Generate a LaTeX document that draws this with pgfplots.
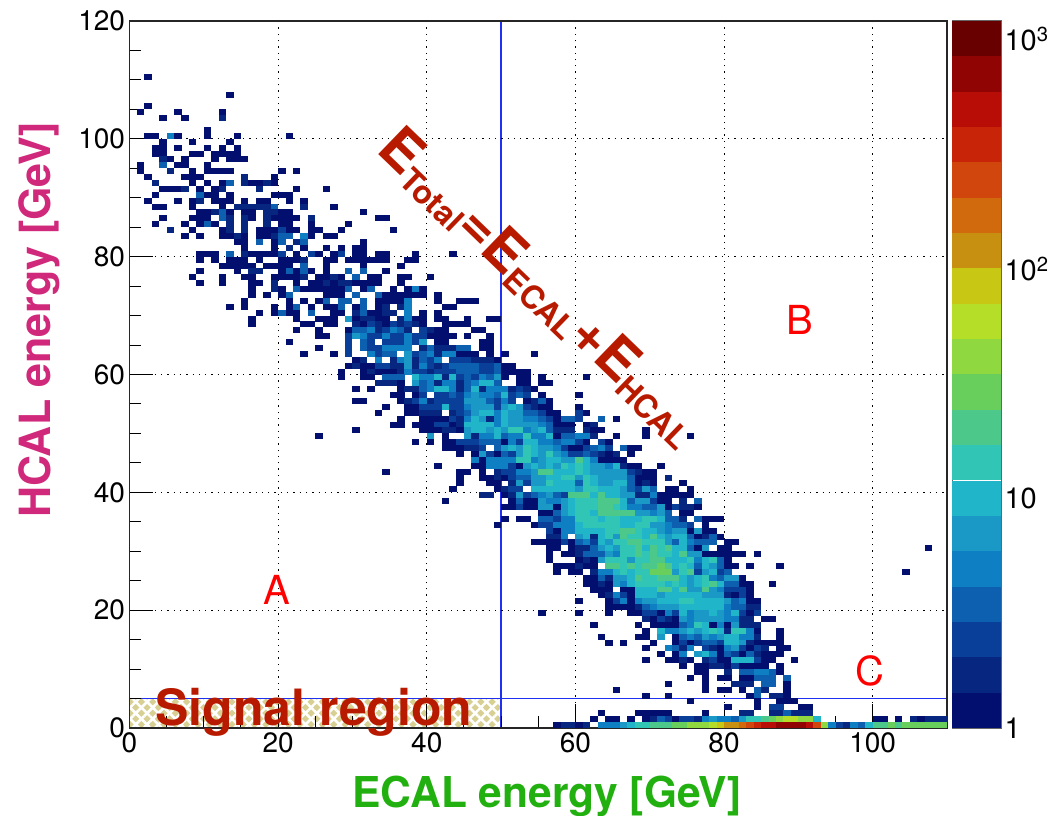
\documentclass[border=0pt]{standalone}
\usepackage{fontspec}
\setmainfont{TeX Gyre Heros}
\usepackage{pgfplots}
\pgfplotsset{compat=1.18}
\usetikzlibrary{patterns.meta}
\definecolor{tanc}{HTML}{D8CF92}
\definecolor{dkred}{HTML}{B81A00}
\definecolor{lblue}{HTML}{2030F0}
\pgfdeclareplotmark{bin}{\pgfpathrectangle{\pgfpoint{-3.75pt}{-3pt}}{\pgfpoint{7.5pt}{6pt}}\pgfusepathqfill}
\pgfdeclareplotmark{lev}{\pgfpathrectangle{\pgfpoint{-24.5pt}{-17.8pt}}{\pgfpoint{49pt}{35.6pt}}\pgfusepathqfill}
\pgfplotsset{
 colormap={root}{
 rgb255=(2,15,110) rgb255=(6,38,128)
 rgb255=(10,63,153) rgb255=(13,95,176)
 rgb255=(15,127,196) rgb255=(26,152,198)
 rgb255=(32,181,200) rgb255=(48,197,180)
 rgb255=(76,200,138) rgb255=(104,207,92)
 rgb255=(144,216,64) rgb255=(180,222,40)
 rgb255=(200,200,20) rgb255=(200,144,16)
 rgb255=(208,106,12) rgb255=(208,70,12)
 rgb255=(200,36,8) rgb255=(184,12,6)
 rgb255=(144,4,4) rgb255=(104,0,0)
 }}
\begin{document}
\begin{tikzpicture}[x=1pt,y=1pt]
\path[use as bounding box] (0,0) rectangle (1056,815);
\begin{axis}[at={(129.5pt,87pt)},anchor=south west,scale only axis,width=817.5pt,height=707pt,
 xmin=0,xmax=110,ymin=0,ymax=120,axis on top,
 xtick={0,20,...,100},ytick={0,20,...,120},minor x tick num=3,minor y tick num=3,
 grid=major,grid style={black,line width=1.1pt,dash pattern=on 1.3pt off 5pt},
 tick align=inside,tick pos=left,major tick length=24pt,minor tick length=12pt,
 tick style={black,line width=1pt},axis line style={line width=1.8pt,color=black!85},
 every tick label/.append style={font=\fontsize{28}{30}\selectfont},
 /pgf/number format/assume math mode=true,
 xticklabel style={yshift=-1pt},yticklabel style={xshift=-1pt},
 point meta min=0,point meta max=3.078,colormap name=root,colormap access=piecewise constant]
\addplot[fill=tanc,draw=none] coordinates {(0,0)(50,0)(50,5)(0,5)} \closedcycle;
\addplot[draw=none,pattern={Lines[angle=45,distance=8pt,line width=2.6pt]},pattern color=white] coordinates {(0,0)(50,0)(50,5)(0,5)} \closedcycle;
\addplot[draw=none,pattern={Lines[angle=-45,distance=8pt,line width=2.6pt]},pattern color=white] coordinates {(0,0)(50,0)(50,5)(0,5)} \closedcycle;
\addplot[scatter,only marks,mark=bin,scatter/use mapped color={draw=none,fill=mapped color},
 point meta={log10(\thisrow{v})}] table[x expr=\thisrow{x}+0.5,y expr=\thisrow{y}+0.5] {
x y v
2 110 1
13 107 1
2 105 1
1 104 1
6 104 1
12 104 1
4 103 1
7 103 1
12 103 2
10 101 1
2 100 1
3 100 1
5 100 5
6 100 1
10 100 1
14 100 1
21 100 1
4 99 1
8 99 1
13 99 1
3 98 1
4 98 1
6 98 1
10 98 1
12 98 1
14 98 1
3 97 1
4 97 1
8 97 1
9 97 1
11 97 1
12 97 1
13 97 1
14 97 1
4 96 2
5 96 1
7 96 1
11 96 1
13 96 1
14 96 1
15 96 1
1 95 1
4 95 3.5
6 95 1
7 95 1
10 95 1
1 94 1
5 94 2
8 94 1
10 94 1
11 94 1
12 94 1
13 94 1
20 94 1
22 94 1
2 93 1
7 93 1
8 93 1
9 93 1
15 93 2
19 93 1
3 92 2
8 92 1
10 92 1
12 92 1
13 92 3.5
15 92 2
16 92 1
17 92 1
18 92 2
19 92 1
4 91 1
5 91 1
6 91 1
7 91 2
9 91 1
11 91 1
12 91 2
17 91 2
22 91 1
26 91 1
3 90 1
9 90 3.5
10 90 1
11 90 1
13 90 1
19 90 1
20 90 1
21 90 1
2 89 1
6 89 1
8 89 1
9 89 2
11 89 1
12 89 1
13 89 1
15 89 1
17 89 1
18 89 1
21 89 1
23 89 1
3 88 1
4 88 1
8 88 1
12 88 1
14 88 2
15 88 2
16 88 2
17 88 2
18 88 2
19 88 3.5
23 88 2
27 88 1
9 87 1
10 87 1
11 87 2
12 87 3.5
13 87 1
15 87 1
16 87 1
18 87 2
19 87 2
20 87 1
21 87 1
31 87 1
4 86 1
8 86 1
9 86 1
10 86 1
12 86 3.5
13 86 2
15 86 2
16 86 1
18 86 2
19 86 1
20 86 1
21 86 1
22 86 1
24 86 2
33 86 1
34 86 1
3 85 1
7 85 1
9 85 1
10 85 3.5
11 85 1
13 85 2
15 85 2
18 85 2
20 85 1
21 85 1
24 85 1
29 85 1
5 84 2
8 84 1
12 84 1
13 84 2
15 84 2
17 84 1
18 84 1
19 84 1
20 84 2.5
21 84 1
22 84 1
24 84 1
25 84 1
28 84 1
35 84 1
7 83 1
9 83 1
12 83 1
13 83 1
14 83 2
15 83 1
17 83 1
18 83 1
19 83 2
20 83 3.5
21 83 3.5
23 83 5
24 83 1
26 83 1
27 83 1
14 82 1
15 82 1
17 82 3.5
19 82 1
20 82 3.5
22 82 2
23 82 3.5
31 82 1
15 81 1
19 81 1
21 81 2
23 81 1
26 81 1
28 81 1
30 81 1
31 81 1
9 80 1
10 80 1
11 80 1
13 80 3.5
15 80 2
16 80 1
17 80 1
18 80 1
19 80 1
20 80 2.5
22 80 1
24 80 2.5
25 80 1
27 80 1
28 80 2.5
30 80 1
31 80 1
33 80 1
34 80 1
38 80 1
43 80 1
9 79 1
11 79 1
13 79 1
14 79 1
15 79 1
17 79 1
20 79 1
21 79 1
22 79 1
23 79 2
26 79 1
27 79 1
29 79 1
30 79 1
31 79 1
32 79 1
33 79 1
34 79 1
37 79 1
38 79 1
12 78 1
13 78 1
14 78 1
15 78 1
16 78 1
18 78 1
19 78 1
20 78 1
21 78 1
23 78 3.5
26 78 1
31 78 1
36 78 1
9 77 1
14 77 1
16 77 2
17 77 2
20 77 1
21 77 3.5
22 77 1
23 77 3.5
24 77 1
26 77 1
29 77 3.5
31 77 3.5
34 77 1
8 76 1
12 76 1
15 76 1
16 76 1
19 76 1
20 76 1
21 76 1
22 76 1
23 76 2
25 76 1
26 76 1
27 76 2
28 76 1
30 76 3.5
32 76 1
33 76 1
36 76 1
37 76 1
40 76 1
9 75 1
12 75 1
16 75 1
17 75 1
19 75 2
22 75 1
24 75 1
25 75 1
26 75 2
27 75 1
28 75 2
29 75 2
30 75 1
31 75 1
32 75 1
33 75 1
36 75 1
16 74 1
19 74 2
20 74 1
22 74 3.5
23 74 1
24 74 1
25 74 1
26 74 1
27 74 1
28 74 1
29 74 3.5
31 74 1
32 74 3.5
35 74 1
37 74 1
38 74 5
39 74 1
16 73 1
18 73 1
20 73 1
21 73 3.5
26 73 1
27 73 1
28 73 1
30 73 3.5
33 73 3.5
34 73 1
35 73 1
36 73 1
37 73 1
38 73 1
39 73 1
41 73 1
15 72 1
21 72 1
23 72 1
25 72 1
26 72 3.5
28 72 3.5
29 72 3.5
31 72 3.5
33 72 1
34 72 1
35 72 1
36 72 1
37 72 5
41 72 1
44 72 1
45 72 1
46 72 1
13 71 1
15 71 1
19 71 1
21 71 1
22 71 3.5
24 71 1
26 71 1
27 71 1
28 71 3.5
30 71 1
31 71 3.5
33 71 1
34 71 2
36 71 2
37 71 5
42 71 1
43 71 1
17 70 1
19 70 1
20 70 3.5
21 70 1
22 70 1
24 70 3.5
27 70 1
28 70 1
30 70 2
31 70 3.5
32 70 1
33 70 1
34 70 2
35 70 2
37 70 5
39 70 1
41 70 1
16 69 1
22 69 1
25 69 1
26 69 1
27 69 1
29 69 7
30 69 1
31 69 2
32 69 2
33 69 1
34 69 1
36 69 2
37 69 5
38 69 1
39 69 1
41 69 1
42 69 1
45 69 1
48 69 1
49 69 1
16 68 1
23 68 1
24 68 1
26 68 1
27 68 1
30 68 2
31 68 1
32 68 2.5
33 68 2
34 68 1
35 68 2.5
36 68 2
37 68 2.5
38 68 2
39 68 1
42 68 1
43 68 1
44 68 1
45 68 1
22 67 1
25 67 1
29 67 1
30 67 3.5
31 67 3.5
32 67 5
33 67 2
34 67 2.5
35 67 5
36 67 3.5
37 67 2
39 67 2.5
40 67 2
41 67 1
42 67 1
46 67 1
47 67 1
25 66 1
26 66 1
29 66 2.5
30 66 7
31 66 5
32 66 2.5
33 66 2.5
34 66 5
35 66 2.5
36 66 2.5
37 66 5
38 66 2.5
39 66 2.5
40 66 1
41 66 1
42 66 1
43 66 1
45 66 1
48 66 1
21 65 1
29 65 2.5
31 65 3.5
32 65 2.5
34 65 2.5
35 65 2.5
36 65 2.5
37 65 5
38 65 2.5
39 65 7
41 65 1
42 65 1
47 65 1
48 65 1
25 64 1
29 64 2.5
31 64 3.5
32 64 2.5
33 64 2.5
34 64 5
35 64 5
36 64 5
37 64 5
39 64 2
40 64 3.5
41 64 2
42 64 2
43 64 2
44 64 3.5
45 64 3.5
47 64 1
48 64 1
23 63 1
27 63 1
29 63 2.5
32 63 5
33 63 2.5
34 63 3.5
35 63 3.5
37 63 7
38 63 2.5
39 63 3.5
40 63 5
41 63 2
42 63 5
43 63 5
44 63 1
45 63 1
46 63 1
48 63 1
50 63 1
54 63 1
30 62 1
31 62 2
33 62 5
35 62 2
36 62 5
37 62 7
38 62 2
39 62 3.5
40 62 2.5
41 62 5
43 62 2.5
44 62 2.5
45 62 2.5
46 62 2
47 62 2
48 62 2
49 62 1
29 61 1
30 61 2
31 61 1
32 61 1
33 61 2.5
34 61 2.5
35 61 2
36 61 2
37 61 7
38 61 2
39 61 5
40 61 2.5
41 61 2
42 61 2.5
43 61 3.5
44 61 3.5
45 61 3.5
46 61 3.5
47 61 2.5
48 61 2.5
49 61 3.5
50 61 1
51 61 1
28 60 1
31 60 1
32 60 2
33 60 1
34 60 1
35 60 1
36 60 2
37 60 5
38 60 2.5
39 60 2.5
40 60 2
41 60 2.5
42 60 2.5
43 60 2.5
44 60 3.5
45 60 3.5
46 60 3.5
47 60 2.5
48 60 2.5
49 60 3.5
50 60 1
51 60 1
52 60 1
53 60 1
28 59 1
31 59 1
32 59 1
34 59 3.5
35 59 3.5
36 59 3.5
38 59 10
39 59 5
40 59 5
41 59 10
42 59 2
43 59 10
44 59 2.5
45 59 3.5
46 59 2.5
47 59 5
48 59 3.5
49 59 7
50 59 1
52 59 1
53 59 1
55 59 1
61 59 1
33 58 2
34 58 2
35 58 2
36 58 1
38 58 7
39 58 3.5
40 58 5
41 58 2
42 58 5
43 58 5
44 58 2
45 58 3.5
46 58 5
47 58 10
48 58 10
49 58 3.5
52 58 1
53 58 1
55 58 1
56 58 1
30 57 1
32 57 1
36 57 1
37 57 2
38 57 2
39 57 3.5
40 57 5
41 57 10
42 57 10
43 57 5
44 57 2
45 57 3.5
46 57 10
47 57 2
48 57 5
49 57 5
50 57 5
51 57 2
52 57 2.5
53 57 2
54 57 1
35 56 1
36 56 1
38 56 1
39 56 2.5
41 56 2.5
42 56 2.5
43 56 3.5
44 56 2.5
45 56 5
46 56 7
47 56 5
48 56 5
49 56 3.5
50 56 10
51 56 2.5
52 56 3.5
53 56 2.5
55 56 1
60 56 1
30 55 1
31 55 1
36 55 1
37 55 2
38 55 2.5
39 55 5
40 55 2
41 55 2.5
42 55 2.5
43 55 2.5
44 55 2.5
45 55 7
46 55 7
47 55 7
48 55 3.5
49 55 2.5
50 55 5
51 55 2.5
53 55 1
54 55 2
55 55 3.5
56 55 1
34 54 1
37 54 1
38 54 1
39 54 2.5
40 54 2.5
41 54 2.5
42 54 10
43 54 2.5
44 54 2.5
45 54 5
46 54 7
47 54 7
48 54 7
49 54 2.5
50 54 7
51 54 10
52 54 7
53 54 2.5
54 54 2
55 54 1
56 54 1
60 54 1
33 53 1
37 53 1
38 53 1
39 53 2
40 53 2
41 53 2
43 53 2
44 53 2.5
45 53 3.5
46 53 7
47 53 10
48 53 10
49 53 5
50 53 10
51 53 7
52 53 7
53 53 3.5
54 53 3.5
55 53 2.5
56 53 1
57 53 1
60 53 2.5
61 53 1
36 52 1
39 52 1
40 52 1
41 52 1
42 52 1
43 52 2.5
44 52 2
45 52 5
46 52 10
47 52 7
48 52 2
49 52 5
50 52 10
51 52 7
52 52 7
53 52 5
54 52 5
55 52 3.5
56 52 2.5
57 52 1
58 52 3.5
59 52 3.5
60 52 2.5
63 52 3.5
65 52 1
35 51 1
36 51 1
38 51 1
39 51 1
40 51 1
41 51 2.5
42 51 2.5
43 51 1
44 51 2
45 51 10
46 51 10
47 51 10
48 51 10
49 51 5
50 51 10
51 51 7
52 51 7
53 51 7
54 51 7
55 51 5
56 51 3.5
57 51 1
58 51 1
59 51 1
61 51 1
62 51 2
30 50 1
39 50 1
40 50 1
41 50 1
42 50 2
43 50 2
44 50 1
45 50 7
46 50 10
47 50 10
48 50 7
49 50 10
50 50 7
51 50 14
52 50 14
53 50 5
54 50 7
55 50 10
56 50 3.5
57 50 2
58 50 2
59 50 2
61 50 2
62 50 1
63 50 1
69 50 1
25 49 1
40 49 7
42 49 1
45 49 7
46 49 2
47 49 5
48 49 5
49 49 10
50 49 3.5
51 49 5
52 49 5
53 49 14
54 49 5
55 49 5
56 49 10
57 49 1
58 49 3.5
59 49 3.5
60 49 5
61 49 5
62 49 2
65 49 1
69 49 1
75 49 1
38 48 1
40 48 1
42 48 1
43 48 1
44 48 2.5
45 48 2.5
46 48 2.5
47 48 3.5
48 48 3.5
49 48 3.5
50 48 1
51 48 5
52 48 2.5
53 48 10
54 48 10
55 48 5
56 48 5
57 48 3.5
58 48 5
59 48 5
60 48 2.5
61 48 1
63 48 2.5
64 48 1
42 47 1
43 47 1
44 47 1
45 47 2
46 47 2
47 47 2.5
49 47 3.5
50 47 7
51 47 10
52 47 7
53 47 14
54 47 10
55 47 7
56 47 7
57 47 5
58 47 2.5
59 47 1
60 47 1
61 47 2.5
62 47 3.5
63 47 5
64 47 2.5
66 47 3.5
67 47 1
68 47 1
44 46 1
46 46 1
47 46 7
48 46 2.5
49 46 1
50 46 3.5
51 46 2.5
52 46 7
53 46 14
54 46 10
55 46 7
56 46 14
57 46 7
58 46 5
59 46 2.5
60 46 2.5
61 46 3.5
62 46 2.5
63 46 2
64 46 1
65 46 2
67 46 1
46 45 5
47 45 1
48 45 5
49 45 5
50 45 5
51 45 5
52 45 14
53 45 14
54 45 5
55 45 7
56 45 10
57 45 10
58 45 7
59 45 7
60 45 20
61 45 10
62 45 5
63 45 1
64 45 1
65 45 1
66 45 1
41 44 1
46 44 1
47 44 1
48 44 5
49 44 5
50 44 5
51 44 2.5
52 44 1
53 44 7
54 44 10
55 44 7
56 44 10
57 44 7
58 44 14
59 44 10
60 44 14
61 44 10
62 44 7
63 44 7
64 44 5
65 44 10
66 44 2
67 44 1
68 44 1
71 44 1
34 43 1
44 43 1
45 43 1
47 43 1
49 43 2
50 43 2.5
51 43 2.5
52 43 5
53 43 5
54 43 7
55 43 20
56 43 20
57 43 10
58 43 10
59 43 10
60 43 14
61 43 10
62 43 7
63 43 7
64 43 7
65 43 7
66 43 7
67 43 2.5
68 43 2
69 43 1
70 43 1
44 42 1
47 42 1
48 42 1
49 42 2
50 42 1
51 42 2.5
52 42 3.5
53 42 3.5
54 42 7
55 42 7
56 42 10
57 42 10
58 42 14
59 42 14
60 42 7
61 42 14
62 42 10
63 42 7
64 42 7
65 42 7
66 42 7
67 42 3.5
68 42 1
69 42 1
70 42 1
72 42 2
44 41 1
48 41 1
49 41 1
51 41 2
52 41 7
53 41 2.5
54 41 7
55 41 7
56 41 14
57 41 10
58 41 10
59 41 10
60 41 3.5
61 41 14
62 41 10
63 41 7
64 41 7
65 41 10
66 41 10
67 41 3.5
68 41 1
69 41 2
70 41 1
74 41 1
43 40 1
49 40 1
50 40 2
51 40 2.5
52 40 2.5
54 40 10
55 40 10
56 40 10
57 40 10
58 40 10
59 40 10
60 40 7
61 40 14
62 40 14
63 40 10
64 40 10
65 40 10
66 40 7
67 40 3.5
68 40 2.5
69 40 7
70 40 3.5
72 40 1
73 40 1
75 40 1
47 39 2
48 39 2
50 39 1
51 39 2
52 39 7
53 39 2.5
54 39 3.5
55 39 5
56 39 7
57 39 3.5
58 39 2.5
59 39 20
60 39 20
61 39 20
62 39 10
63 39 20
64 39 10
65 39 10
66 39 7
67 39 7
68 39 2
69 39 2
70 39 5
71 39 1
72 39 1
73 39 1
74 39 1
75 39 1
42 38 1
51 38 1
52 38 3.5
53 38 1
54 38 1
55 38 7
56 38 5
57 38 5
58 38 7
59 38 10
60 38 14
61 38 14
62 38 14
63 38 20
64 38 20
65 38 20
66 38 10
67 38 3.5
68 38 7
69 38 7
70 38 2.5
71 38 1
72 38 1
74 38 2
76 38 3.5
50 37 1
51 37 1
52 37 2.5
53 37 1
54 37 1
55 37 7
56 37 7
57 37 1
58 37 7
59 37 10
60 37 14
61 37 14
62 37 14
63 37 20
64 37 20
65 37 14
66 37 10
67 37 5
68 37 5
69 37 3.5
70 37 3.5
71 37 7
72 37 1
73 37 2.5
74 37 2
75 37 2
76 37 1
55 36 1
56 36 1
57 36 3.5
58 36 7
59 36 10
60 36 14
61 36 14
62 36 10
63 36 20
64 36 20
65 36 20
66 36 20
67 36 20
68 36 7
69 36 7
70 36 5
71 36 7
72 36 3.5
74 36 1
75 36 1
50 35 1
52 35 1
53 35 1
55 35 3.5
56 35 3.5
57 35 2.5
58 35 5
59 35 5
60 35 14
61 35 14
62 35 14
63 35 10
64 35 14
65 35 14
66 35 10
67 35 10
68 35 10
69 35 14
70 35 14
71 35 10
72 35 3.5
73 35 3.5
74 35 2
76 35 3.5
77 35 1
78 35 1
79 35 1
49 34 1
54 34 1
55 34 2.5
56 34 2.5
57 34 5
58 34 5
59 34 5
60 34 10
61 34 14
62 34 14
63 34 14
64 34 14
65 34 14
66 34 10
67 34 10
68 34 14
69 34 14
70 34 7
71 34 7
72 34 5
73 34 3.5
74 34 3.5
75 34 2.5
77 34 1
56 33 2.5
57 33 1
58 33 5
59 33 5
60 33 10
61 33 10
62 33 10
63 33 10
64 33 14
65 33 14
66 33 20
67 33 20
68 33 14
69 33 10
70 33 10
71 33 7
72 33 5
73 33 7
74 33 7
75 33 1
76 33 7
77 33 1
78 33 1
56 32 2
57 32 2
58 32 5
60 32 7
61 32 10
62 32 2
63 32 10
64 32 14
65 32 7
66 32 20
67 32 14
68 32 14
69 32 10
70 32 20
71 32 10
72 32 7
73 32 10
74 32 10
75 32 3.5
76 32 1
77 32 2
78 32 3.5
79 32 1
54 31 1
55 31 1
56 31 1
57 31 1
58 31 2.5
59 31 1
60 31 3.5
61 31 5
62 31 2.5
63 31 10
64 31 7
65 31 14
66 31 14
67 31 20
68 31 20
69 31 14
70 31 14
71 31 14
72 31 7
73 31 3.5
74 31 10
75 31 5
76 31 3.5
77 31 3.5
78 31 3.5
80 31 1
81 31 1
107 30 1
56 30 1
57 30 1
59 30 1
60 30 2
61 30 2
62 30 3.5
63 30 7
64 30 10
65 30 7
66 30 14
67 30 14
68 30 20
69 30 10
70 30 20
71 30 14
72 30 20
73 30 10
74 30 10
75 30 3.5
76 30 1
77 30 7
79 30 1
80 30 1
56 29 1
58 29 1
59 29 1
60 29 2
61 29 3.5
62 29 3.5
63 29 3.5
64 29 7
65 29 5
66 29 14
67 29 14
68 29 20
69 29 14
70 29 20
71 29 14
72 29 14
73 29 10
74 29 20
75 29 7
76 29 7
77 29 1
78 29 1
79 29 1
80 29 1
81 29 1
82 29 1
84 29 1
56 28 1
60 28 1
61 28 2
62 28 1
63 28 7
64 28 14
65 28 14
66 28 14
67 28 7
68 28 14
69 28 14
70 28 20
71 28 20
72 28 10
73 28 10
74 28 10
75 28 14
76 28 5
77 28 10
78 28 14
79 28 3.5
80 28 1
57 27 1
58 27 1
59 27 1
60 27 2
61 27 1
62 27 1
64 27 20
65 27 20
66 27 14
67 27 20
68 27 14
69 27 20
70 27 20
71 27 29
72 27 20
73 27 10
74 27 14
75 27 10
76 27 3.5
77 27 10
78 27 7
79 27 3.5
80 27 1
81 27 1
83 27 1
87 27 1
57 26 1
59 26 1
60 26 1
62 26 2
63 26 5
64 26 5
65 26 10
66 26 14
67 26 10
68 26 14
69 26 14
70 26 29
71 26 29
72 26 29
73 26 7
74 26 14
75 26 20
76 26 2.5
77 26 7
78 26 10
79 26 2.5
80 26 3.5
104 26 1
61 25 1
62 25 1
63 25 3.5
64 25 2
65 25 7
66 25 7
67 25 10
68 25 20
69 25 14
70 25 14
71 25 20
72 25 20
73 25 20
74 25 10
75 25 7
76 25 10
77 25 14
78 25 5
79 25 3.5
80 25 7
81 25 7
82 25 1
61 24 1
62 24 1
63 24 2
64 24 1
65 24 7
66 24 5
67 24 10
68 24 14
69 24 14
70 24 14
71 24 14
72 24 10
73 24 14
74 24 10
75 24 7
76 24 10
77 24 14
78 24 20
79 24 10
80 24 3.5
81 24 3.5
82 24 1
83 24 1
86 24 1
62 23 1
63 23 1
64 23 1
66 23 1
67 23 1
68 23 10
69 23 10
70 23 10
71 23 20
72 23 20
73 23 10
74 23 20
75 23 7
76 23 7
77 23 20
78 23 7
79 23 5
80 23 2.5
81 23 2.5
82 23 2.5
83 23 1
63 22 1
64 22 2
65 22 5
66 22 2.5
67 22 1
68 22 10
69 22 10
70 22 10
71 22 7
72 22 10
73 22 10
74 22 10
75 22 10
76 22 10
77 22 7
78 22 7
79 22 7
80 22 2
81 22 1
82 22 2.5
83 22 1
60 21 1
64 21 1
65 21 2.5
66 21 5
67 21 1
68 21 5
69 21 7
70 21 7
71 21 10
72 21 10
73 21 10
74 21 14
75 21 14
76 21 10
77 21 10
78 21 10
79 21 10
80 21 7
81 21 3.5
82 21 5
83 21 1
84 21 1
64 20 1
65 20 1
66 20 1
67 20 1
68 20 2
69 20 3.5
70 20 5
71 20 7
72 20 7
73 20 7
74 20 10
75 20 10
76 20 10
77 20 10
78 20 10
79 20 10
80 20 5
81 20 3.5
82 20 3.5
83 20 2
84 20 2
55 19 1
60 19 1
64 19 1
67 19 1
68 19 1
69 19 2.5
70 19 2.5
71 19 1
72 19 5
73 19 2.5
74 19 10
75 19 5
76 19 7
77 19 7
78 19 10
79 19 7
80 19 5
81 19 10
82 19 2.5
83 19 1
84 19 2.5
69 18 2
70 18 1
71 18 2.5
72 18 2
73 18 1
74 18 7
75 18 5
76 18 7
77 18 7
78 18 7
79 18 7
80 18 5
81 18 5
82 18 2
83 18 2
85 18 1
86 18 1
62 17 1
68 17 1
70 17 1
71 17 1
72 17 1
73 17 1
74 17 3.5
75 17 5
76 17 14
77 17 10
78 17 1
79 17 5
80 17 1
81 17 7
82 17 2
83 17 2
84 17 2
69 16 1
71 16 10
72 16 5
73 16 5
74 16 7
75 16 10
76 16 7
77 16 10
78 16 14
79 16 10
80 16 2
81 16 14
82 16 14
83 16 5
84 16 1
87 16 1
63 15 1
68 15 1
69 15 1
71 15 7
73 15 1
74 15 3.5
75 15 5
76 15 3.5
77 15 7
78 15 5
79 15 7
80 15 10
81 15 10
82 15 5
83 15 5
84 15 2
87 15 1
64 14 1
66 14 1
70 14 1
73 14 1
74 14 2.5
75 14 1
76 14 2.5
77 14 3.5
78 14 3.5
79 14 2.5
80 14 10
81 14 10
82 14 7
83 14 2
84 14 1
85 14 1
86 14 1
87 14 1
69 13 1
72 13 5
73 13 3.5
74 13 2
75 13 5
77 13 2.5
78 13 2
79 13 1
80 13 5
81 13 7
82 13 2.5
83 13 1
84 13 2.5
85 13 2
87 13 1
88 13 1
71 12 1
73 12 1
74 12 5
76 12 7
77 12 10
78 12 5
79 12 1
80 12 3.5
81 12 2.5
82 12 1
83 12 3.5
84 12 2
85 12 1
86 12 1
87 12 1
69 11 1
72 11 1
73 11 1
74 11 2
75 11 1
77 11 2
78 11 2.5
79 11 1
80 11 1
81 11 10
82 11 10
83 11 10
84 11 2.5
85 11 1
86 11 1
89 11 1
74 10 1
76 10 1
77 10 1
78 10 2
79 10 2
80 10 1
81 10 2.5
82 10 1
83 10 1
84 10 1
85 10 1
87 10 1
76 9 1
77 9 1
80 9 2
82 9 3.5
83 9 3.5
84 9 5
85 9 5
86 9 3.5
87 9 1
75 8 1
77 8 1
79 8 1
80 8 1
82 8 1
83 8 1
84 8 3.5
85 8 3.5
86 8 3.5
88 8 3.5
72 7 1
77 7 1
81 7 2
82 7 2
83 7 2
85 7 3.5
86 7 3.5
88 7 1
65 6 1
77 6 1
79 6 1
80 6 1
82 6 1
84 6 3.5
85 6 2
88 6 1
69 5 1
72 5 1
83 5 1
84 5 3.5
86 5 2
87 5 2
88 5 1
75 4 1
84 4 1
87 4 1
88 4 1
89 4 1
80 3 1
84 3 1
86 3 2.5
87 3 2.5
90 3 1
91 3 1
63 2 1
68 2 1
69 2 1
70 2 1
71 2 1
72 2 1
77 2 1
82 2 2
83 2 2
86 2 2
87 2 2
88 2 3.5
89 2 2
90 2 2
91 2 2
62 1 1
64 1 1
65 1 1
67 1 1
69 1 1
70 1 2
71 1 3.5
72 1 2.5
73 1 1
74 1 2.5
75 1 2.5
76 1 2
77 1 5
78 1 7
79 1 5
80 1 5
81 1 3.5
82 1 7
83 1 14
84 1 14
85 1 20
86 1 29
87 1 41
88 1 60
89 1 60
90 1 41
91 1 41
92 1 10
100 1 1
101 1 1
103 1 1
105 1 2
106 1 1
107 1 2
108 1 2
109 1 2
57 0 1
58 0 2
59 0 2
60 0 1
61 0 2
63 0 5
64 0 5
65 0 5
66 0 7
67 0 10
68 0 14
69 0 14
70 0 20
71 0 20
72 0 20
73 0 29
74 0 29
75 0 41
76 0 41
77 0 41
78 0 60
79 0 85
80 0 120
81 0 120
82 0 170
83 0 250
84 0 350
85 0 500
86 0 500
87 0 700
88 0 700
89 0 700
90 0 700
91 0 500
92 0 250
93 0 41
94 0 5
95 0 2.5
96 0 2
97 0 5
98 0 3.5
99 0 10
100 0 20
101 0 20
102 0 29
103 0 20
104 0 29
105 0 29
106 0 29
107 0 29
108 0 29
109 0 29
};
\addplot[lblue,line width=1.3pt] coordinates {(50,0)(50,120)};
\addplot[lblue,line width=1.3pt] coordinates {(0,5)(110,5)};
\end{axis}
\begin{axis}[at={(952pt,87pt)},anchor=south west,scale only axis,width=49pt,height=707pt,
 xmin=0,xmax=1,ymode=log,ymin=1,ymax=1197,log basis y=10,xtick=\empty,
 ytick={1,10,100,1000},yticklabels={1,10,10\textsuperscript{2},10\textsuperscript{3}},
 minor ytick={2,3,4,5,6,7,8,9,20,30,40,50,60,70,80,90,200,300,400,500,600,700,800,900},
 tick align=inside,ytick pos=right,yticklabel pos=right,major tick length=24pt,minor tick length=12pt,
 tick style={black,line width=1pt},axis line style={line width=1pt,color=black!60},axis on top,
 every tick label/.append style={font=\fontsize{29}{30}\selectfont},
 point meta min=0,point meta max=3.078,colormap name=root,colormap access=piecewise constant]
\addplot[scatter,only marks,mark=lev,scatter/use mapped color={draw=none,fill=mapped color},
 point meta={log10(\thisrow{y})}] table {
x y
0.5 1.194
0.5 1.70
0.5 2.43
0.5 3.46
0.5 4.93
0.5 7.03
0.5 10.0
0.5 14.3
0.5 20.4
0.5 29.0
0.5 41.4
0.5 59.0
0.5 84.1
0.5 120
0.5 171
0.5 243
0.5 347
0.5 494
0.5 704
0.5 1003
};
\end{axis}
\node[font=\fontsize{42.5}{44}\selectfont\bfseries,color={rgb,255:red,34;green,176;blue,16}] at (547,815-796) {ECAL energy [GeV]};
\node[font=\fontsize{43}{44}\selectfont\bfseries,color={rgb,255:red,208;green,40;blue,122},rotate=90] at (39,815-320) {HCAL energy [GeV]};
\node[font=\fontsize{50}{52}\selectfont\bfseries,color=dkred] at (314,815-712) {Signal region};
\node[font=\fontsize{40}{40}\selectfont,color=red] at (277,815-590) {A};
\node[font=\fontsize{40}{40}\selectfont,color=red] at (800,815-320) {B};
\node[font=\fontsize{40}{40}\selectfont,color=red] at (870,815-671) {C};
\node[color=dkred,rotate=-44,font=\bfseries,inner sep=0pt] at (540,815-287) {\fontsize{56}{56}\selectfont E\raisebox{-7pt}{\fontsize{32}{32}\selectfont Total}=E\raisebox{-7pt}{\fontsize{32}{32}\selectfont ECAL}+E\raisebox{-7pt}{\fontsize{32}{32}\selectfont HCAL}};
\end{tikzpicture}
\end{document}
